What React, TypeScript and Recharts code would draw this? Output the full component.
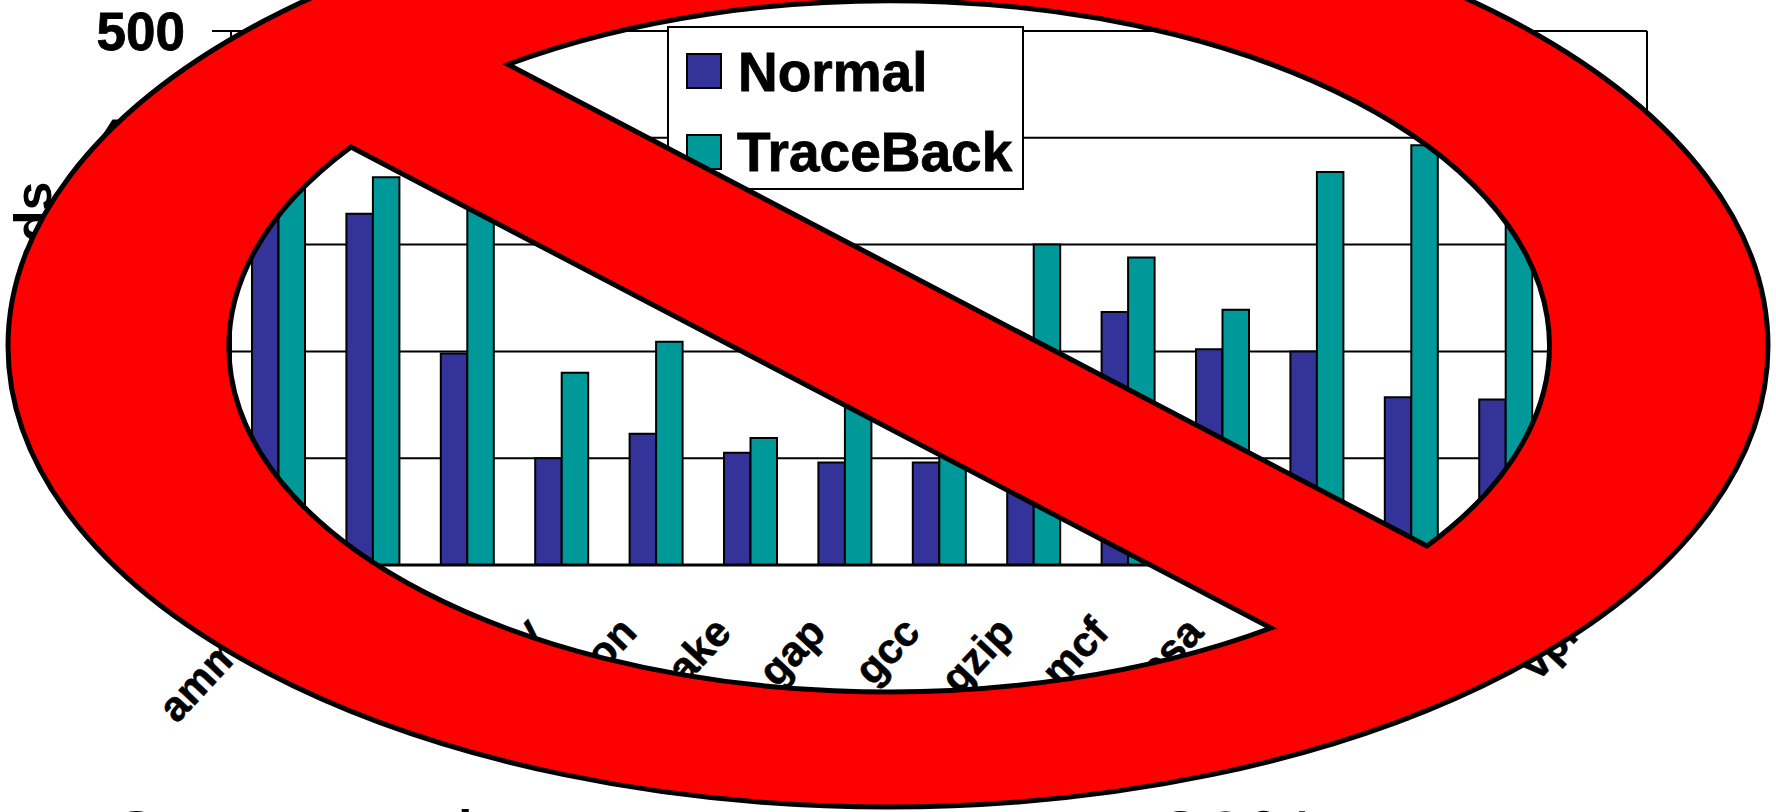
import React from "react";
import {
  BarChart,
  Bar,
  CartesianGrid,
  Legend,
  XAxis,
  YAxis,
} from "recharts";

const benchmarks = [
  "ammp", "art", "bzip2", "crafty", "eon", "equake", "gap", "gcc",
  "gzip", "mcf", "mesa", "parser", "twolf", "vortex", "vpr",
];
const normalSeconds = [335, 329, 198, 100, 123, 105, 96, 96, 185, 237, 202, 200, 157, 155, 150];
const traceBackSeconds = [365, 363, 360, 180, 209, 119, 210, 105, 300, 288, 239, 368, 393, 340, 300];
const yTicks = [0, 100, 200, 300, 400, 500];

const rows = benchmarks.map((name, i) => ({
  name,
  Normal: normalSeconds[i],
  TraceBack: traceBackSeconds[i],
}));

const FONT = '"Liberation Sans", Arial, sans-serif';
const NORMAL_COLOR = "#333399";
const TRACEBACK_COLOR = "#009999";

const BenchmarkTick = ({ x, y, payload }: any) => (
  <text
    x={x - 17}
    y={y + 61}
    textAnchor="end"
    fontFamily={FONT}
    fontSize={42}
    fontWeight="bold"
    stroke="#000"
    strokeWidth={0.6}
    transform={`rotate(-47 ${x - 17} ${y + 61})`}
  >
    {payload.value}
  </text>
);

const LegendBox = () => (
  <svg width={357} height={164} style={{ display: "block" }}>
    <rect x={1} y={1} width={355} height={162} fill="#fff" stroke="#000" strokeWidth={2} />
    <rect x={20} y={28} width={34} height={34} fill={NORMAL_COLOR} stroke="#000" strokeWidth={2} />
    <rect x={20} y={109} width={34} height={34} fill={TRACEBACK_COLOR} stroke="#000" strokeWidth={2} />
    <g fontFamily={FONT} fontSize={55} fontWeight="bold" stroke="#000" strokeWidth={0.8}>
      <text x={71} y={65}>Normal</text>
      <text x={70} y={145}>TraceBack</text>
    </g>
  </svg>
);

// the "prohibited" sign laid over the whole chart
const ProhibitedSign = () => (
  <svg
    width={1776}
    height={812}
    style={{ position: "absolute", left: 0, top: 0, pointerEvents: "none" }}
  >
    <g fontFamily={FONT} fontSize={81}>
      <text x={105} y={868}>Computation</text>
      <text x={1158} y={868}>30%</text>
    </g>
    <path
      fill="#ff0000"
      stroke="#000"
      strokeWidth={5}
      fillRule="evenodd"
      d={[
        "M 8 346 A 880 461 0 1 1 1768 346 A 880 461 0 1 1 8 346 Z",
        "M 508 64.5 A 659.5 345 0 0 1 1427 546 Z",
        "M 351 147 A 659.5 345 0 0 0 1271 628 Z",
      ].join(" ")}
    />
  </svg>
);

export default function App() {
  return (
    <div
      style={{
        position: "absolute",
        left: 0,
        top: 0,
        width: 1776,
        height: 812,
        overflow: "hidden",
        background: "#fff",
      }}
    >
      <BarChart
        width={1776}
        height={812}
        data={rows}
        barSize={26.5}
        barGap={0}
        margin={{ top: 31, right: 129, bottom: 0, left: 0 }}
      >
        <CartesianGrid
          stroke="#000"
          strokeWidth={2}
          strokeDasharray="none"
          verticalPoints={[231, 1647]}
        />
        <XAxis
          dataKey="name"
          height={247}
          interval={0}
          tick={<BenchmarkTick />}
          tickLine={false}
          axisLine={{ stroke: "#000", strokeWidth: 3 }}
        />
        <YAxis
          width={231}
          domain={[0, 500]}
          ticks={yTicks}
          tickSize={19}
          tickMargin={27}
          tick={{ fontFamily: FONT, fontSize: 53, fontWeight: "bold", fill: "#000", stroke: "#000", strokeWidth: 0.8 }}
          tickLine={{ stroke: "#000", strokeWidth: 2 }}
          axisLine={{ stroke: "#000", strokeWidth: 2 }}
          label={{
            value: "Seconds",
            angle: -90,
            position: "insideLeft",
            dx: 28,
            dy: -8,
            style: { fontFamily: FONT, fontSize: 52, fontWeight: "bold", fill: "#000", textAnchor: "middle" },
          }}
        />
        <Legend
          layout="vertical"
          align="center"
          verticalAlign="middle"
          content={<LegendBox />}
          wrapperStyle={{ left: 667, top: 26, width: 357, height: 164 }}
        />
        <Bar dataKey="Normal" fill={NORMAL_COLOR} stroke="#000" strokeWidth={2} isAnimationActive={false} />
        <Bar dataKey="TraceBack" fill={TRACEBACK_COLOR} stroke="#000" strokeWidth={2} isAnimationActive={false} />
      </BarChart>
      <ProhibitedSign />
    </div>
  );
}
